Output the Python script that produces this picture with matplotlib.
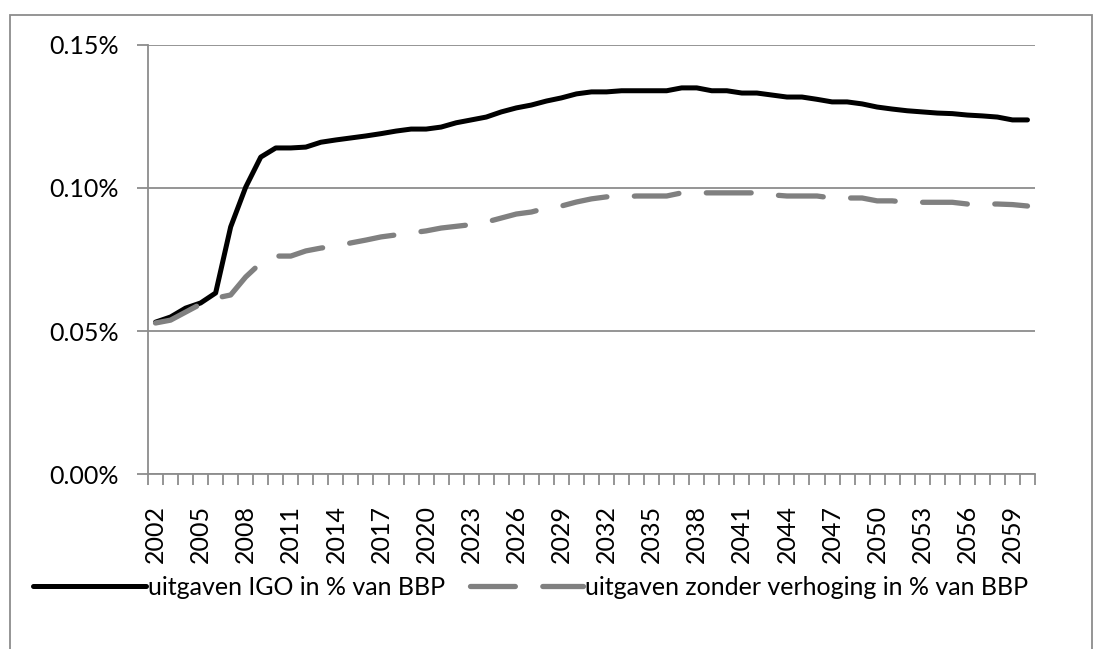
import matplotlib.pyplot as plt
from matplotlib.patches import Rectangle
from matplotlib.ticker import FuncFormatter

plt.rcParams['font.family'] = ['Lato', 'DejaVu Sans']

# Data (values in % of GDP)
years = list(range(2002, 2061))
igo = [0.0531, 0.0549, 0.0580, 0.0598, 0.0633, 0.0864, 0.1003, 0.1108, 0.1140, 0.1140,
       0.1143, 0.1160, 0.1168, 0.1175, 0.1182, 0.1190, 0.1199, 0.1206, 0.1206, 0.1213,
       0.1228, 0.1238, 0.1248, 0.1266, 0.1280, 0.1290, 0.1304, 0.1315, 0.1329, 0.1336,
       0.1336, 0.1340, 0.1340, 0.1340, 0.1340, 0.1350, 0.1350, 0.1340, 0.1340, 0.1332,
       0.1332, 0.1325, 0.1318, 0.1318, 0.1310, 0.1301, 0.1301, 0.1294, 0.1283, 0.1276,
       0.1270, 0.1266, 0.1262, 0.1260, 0.1255, 0.1252, 0.1248, 0.1238, 0.1238]
zonder = [0.0528, 0.0538, 0.0566, 0.0594, 0.0615, 0.0626, 0.0689, 0.0738, 0.0762, 0.0762,
          0.0780, 0.0790, 0.0797, 0.0808, 0.0818, 0.0829, 0.0836, 0.0843, 0.0850, 0.0860,
          0.0866, 0.0872, 0.0881, 0.0895, 0.0909, 0.0916, 0.0930, 0.0937, 0.0951, 0.0962,
          0.0969, 0.0969, 0.0972, 0.0972, 0.0972, 0.0983, 0.0983, 0.0983, 0.0983, 0.0983,
          0.0983, 0.0976, 0.0972, 0.0972, 0.0972, 0.0965, 0.0965, 0.0965, 0.0955, 0.0955,
          0.0950, 0.0950, 0.0950, 0.0950, 0.0944, 0.0944, 0.0944, 0.0942, 0.0937]
label_igo = 'uitgaven IGO in % van BBP'
label_zonder = 'uitgaven zonder verhoging in % van BBP'

fig = plt.figure(figsize=(11.06, 6.49), dpi=100)
ax = fig.add_axes([0.1338, 0.2696, 0.8020, 0.6611])

x = list(range(len(years)))
ax.plot(x, igo, color='black', lw=3.6, solid_capstyle='round', label=label_igo, zorder=3)
ax.plot(x, zonder, color='#808080', lw=3.8, dashes=(8.5, 5.2), dash_capstyle='round',
        label=label_zonder, zorder=3)

ax.set_xlim(-0.5, len(years) - 0.5)
ax.set_ylim(0, 0.15)
ax.set_yticks([0, 0.05, 0.10, 0.15])
ax.yaxis.set_major_formatter(FuncFormatter(lambda v, p: f'{v:.2f}%'))
ax.grid(axis='y', color='#8c8c8c', lw=1.3)
ax.set_axisbelow(True)

# category axis: ticks between categories, labels every third year
ax.set_xticks([i - 0.5 for i in range(len(years) + 1)], minor=True)
ax.set_xticks(x[::3])
ax.set_xticklabels([str(y) for y in years[::3]], rotation=90)
ax.tick_params(axis='x', which='major', length=0, pad=22, labelsize=18)
ax.tick_params(axis='x', which='minor', length=8, width=1.3, color='#8c8c8c', direction='out')
ax.tick_params(axis='y', length=8, width=1.3, color='#8c8c8c', labelsize=18, pad=13)

for s in ['top', 'right']:
    ax.spines[s].set_visible(False)
for s in ['left', 'bottom']:
    ax.spines[s].set_color('#8c8c8c')
    ax.spines[s].set_linewidth(1.3)

fig.legend(loc='center', bbox_to_anchor=(0.48, 0.095), ncol=2, frameon=False,
           fontsize=18, handlelength=4.5, handletextpad=0.1, columnspacing=1.0)

# outer chart frame
fig.patches.append(Rectangle((0.009, -0.05), 0.978, 1.027, transform=fig.transFigure,
                             fill=False, edgecolor='#8c8c8c', lw=1.3))

fig.savefig('out.png', dpi=100)
